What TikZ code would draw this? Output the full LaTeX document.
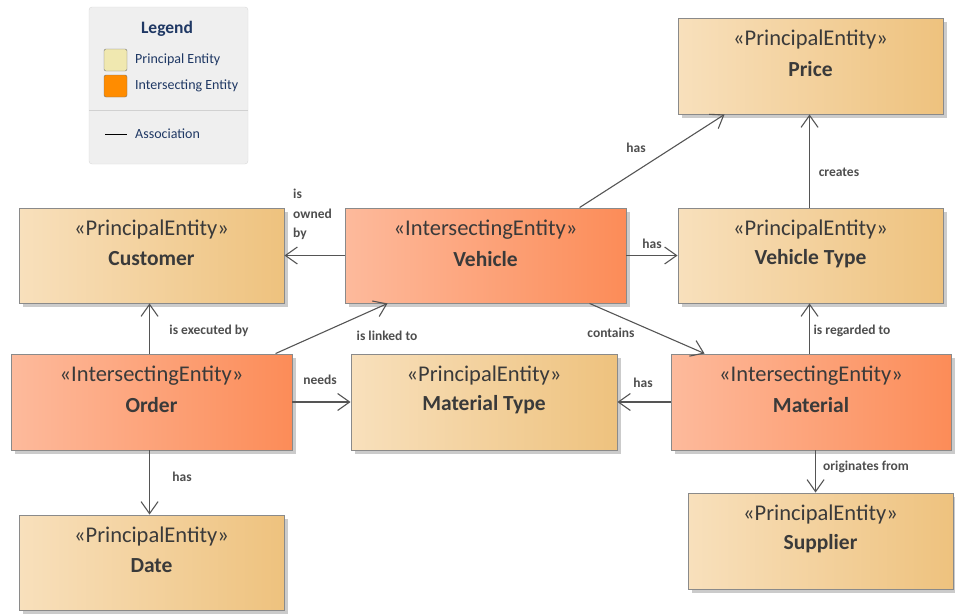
\documentclass[tikz,border=0pt]{standalone}
\usepackage{fontspec}
\setmainfont{Carlito}
\usetikzlibrary{arrows.meta,shadows,fit,calc}

\definecolor{prinL}{HTML}{F8E0BC}
\definecolor{prinR}{HTML}{EEC27E}
\definecolor{interL}{HTML}{FDBA9C}
\definecolor{interR}{HTML}{FC8C58}
\definecolor{boxline}{HTML}{8A8A8A}
\definecolor{linkline}{HTML}{555555}
\definecolor{txt}{HTML}{3A3A3A}
\definecolor{legtxt}{HTML}{1F3864}
\definecolor{legbg}{HTML}{EFEFEF}

\tikzset{
  entity/.style={draw=boxline, line width=0.9pt, inner sep=0pt,
    drop shadow={shadow xshift=4pt, shadow yshift=-4pt, fill=black!45, opacity=0.45}},
  principal/.style={entity, left color=prinL, right color=prinR},
  intersecting/.style={entity, left color=interL, right color=interR},
  stereo/.style={font=\fontsize{22.5}{26}\selectfont, text=txt, inner sep=0pt},
  ename/.style={font=\fontsize{21.5}{25}\selectfont\bfseries, text=txt, inner sep=0pt},
  assoc/.style={draw=linkline, line width=1.1pt, -{Straight Barb[length=12pt,width=17pt,line width=1.1pt]}},
  lbl/.style={font=\fontsize{13.5}{16}\selectfont\bfseries, text=txt!90, inner sep=0pt},
  legtext/.style={font=\fontsize{14}{16}\selectfont, text=legtxt, inner sep=0pt, anchor=west},
}

\newcommand\entitybox[7]{%
  \node[#2, fit={(#3,#4) (#5,#6)}] (#1) {};
  \node[stereo] (#1-st) at ($(#1.north)+(0,22)$) {«#7»};
}

\begin{document}
\begin{tikzpicture}[x=1pt, y=-1pt]
\useasboundingbox (0,0) rectangle (955,613);

% legend
\node[fit={(89,7) (248,164)}, inner sep=0pt, draw=black!15, fill=legbg, rounded corners=3pt] (legend) {};
\node[font=\fontsize{17.5}{20}\selectfont\bfseries, text=legtxt, inner sep=0pt] (legend-title) at (167,29) {Legend};
\node[fit={(104,49) (127,71)}, inner sep=0pt, draw=black!55, fill={rgb,255:red,240;green,232;blue,176}, rounded corners=2pt] (sw-prin) {};
\node[fit={(104,75) (127,97)}, inner sep=0pt, draw=black!55, fill={rgb,255:red,255;green,140;blue,0}, rounded corners=2pt] (sw-inter) {};
\node[legtext] (lg-prin) at (135,60) {Principal Entity};
\node[legtext] (lg-inter) at (135,86) {Intersecting Entity};
\coordinate (div-a) at (89,110);
\coordinate (div-b) at (248,110);
\draw[black!18, line width=0.8pt] (div-a) -- (div-b);
\coordinate (as-a) at (105,134);
\coordinate (as-b) at (127,134);
\draw[black, line width=1pt] (as-a) -- (as-b);
\node[legtext] (lg-assoc) at (135,134) {Association};

% entities
\entitybox{price}{principal}{678}{18}{943}{114}{PrincipalEntity}
\node[ename] at ($(price.north)+(0,51)$) {Price};
\entitybox{customer}{principal}{19}{208}{284}{303}{PrincipalEntity}
\node[ename] at ($(customer.north)+(0,51)$) {Customer};
\entitybox{vehicle}{intersecting}{345}{208}{626}{303}{IntersectingEntity}
\node[ename] at ($(vehicle.north)+(0,51)$) {Vehicle};
\entitybox{vtype}{principal}{678}{208}{943}{303}{PrincipalEntity}
\node[ename] at ($(vtype.north)+(0,51)$) {Vehicle Type};
\entitybox{order}{intersecting}{11}{354}{292}{450}{IntersectingEntity}
\node[ename] at ($(order.north)+(0,51)$) {Order};
\entitybox{mattype}{principal}{351}{354}{617}{450}{PrincipalEntity}
\node[ename] at ($(mattype.north)+(0,51)$) {Material Type};
\entitybox{material}{intersecting}{671}{354}{951}{450}{IntersectingEntity}
\node[ename] at ($(material.north)+(0,51)$) {Material};
\entitybox{date}{principal}{19}{515}{284}{610}{PrincipalEntity}
\node[ename] at ($(date.north)+(0,51)$) {Date};
\entitybox{supplier}{principal}{688}{493}{953}{589}{PrincipalEntity}
\node[ename] at ($(supplier.north)+(0,51)$) {Supplier};

% associations
\draw[assoc] ([xshift=235pt]vehicle.north west) -- ([xshift=47pt]price.south west);
\draw[assoc] ([xshift=132pt]vtype.north west) -- ([xshift=132pt]price.south west);
\draw[assoc] (vehicle.west) -- (customer.east);
\draw[assoc] (vehicle.east) -- (vtype.west);
\draw[assoc] ([xshift=245pt]vehicle.south west) -- ([xshift=34pt]material.north west);
\draw[assoc] ([xshift=139pt]material.north west) -- ([xshift=132pt]vtype.south west);
\draw[assoc] ([xshift=139pt]order.north west) -- ([xshift=131pt]customer.south west);
\draw[assoc] ([xshift=265pt]order.north west) -- ([xshift=43pt]vehicle.south west);
\draw[assoc] (order.east) -- (mattype.west);
\draw[assoc] (material.west) -- (mattype.east);
\draw[assoc] ([xshift=139pt]order.south west) -- ([xshift=131pt]date.north west);
\draw[assoc] ([xshift=145pt]material.south west) -- ([xshift=128pt]supplier.north west);

% association labels
\node[lbl] (l-has1) at (636,148) {has};
\node[lbl] (l-creates) at (839,172) {creates};
\node[lbl, align=left, anchor=north west, font=\fontsize{13.5}{19.5}\selectfont\bfseries] (l-owned) at (293,189) {is\\owned\\by};
\node[lbl] (l-has2) at (652,244) {has};
\node[lbl] (l-contains) at (611,333) {contains};
\node[lbl] (l-regarded) at (852,331) {is regarded to};
\node[lbl] (l-executed) at (209,331) {is executed by};
\node[lbl] (l-linked) at (387,336) {is linked to};
\node[lbl] (l-needs) at (320,380) {needs};
\node[lbl] (l-has3) at (643,383) {has};
\node[lbl] (l-has4) at (182,477) {has};
\node[lbl] (l-orig) at (866,467) {originates from};
\end{tikzpicture}
\end{document}
